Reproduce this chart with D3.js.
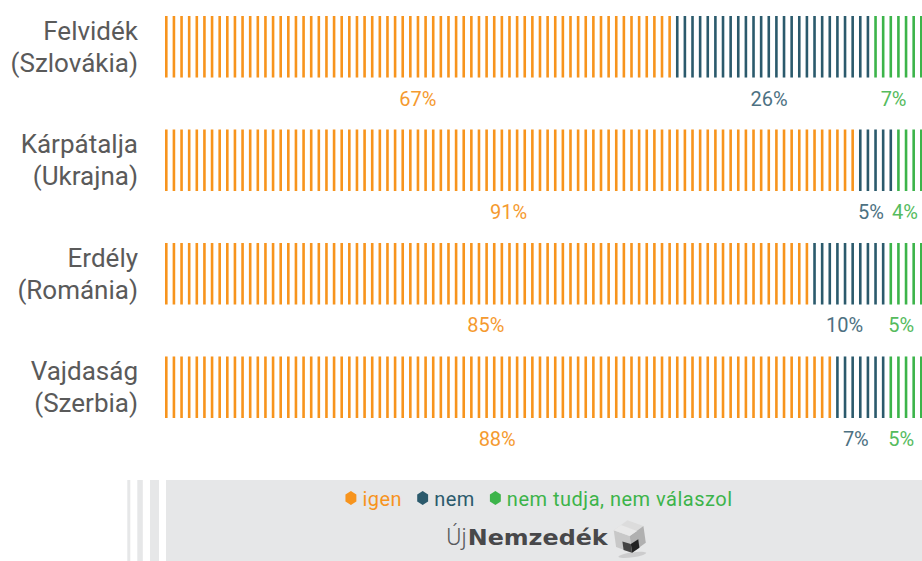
<!DOCTYPE html>
<html>
<head>
<meta charset="utf-8">
<script src="https://cdn.jsdelivr.net/npm/d3@7"></script>
<style>
  body { margin: 0; background: #fff; }
  svg { display: block; font-family: Roboto, "Open Sans", sans-serif; }
</style>
</head>
<body>
<svg width="922" height="561"></svg>
<script>
// chart data
const regions = ["Felvidék", "Kárpátalja", "Erdély", "Vajdaság"];
const countries = ["(Szlovákia)", "(Ukrajna)", "(Románia)", "(Szerbia)"];
const igen = [67, 91, 85, 88];
const nem = [26, 5, 10, 7];
const nemTudja = [7, 4, 5, 5];
const seriesNames = ["igen", "nem", "nem tudja, nem válaszol"];
const seriesColors = ["#f7941d", "#2b5a6c", "#3cb44a"];
const labelColors = ["#f59a2f", "#4d7182", "#55bb5d"];

const svg = d3.select("svg");
const width = +svg.attr("width");
const height = +svg.attr("height");

// rows
const y = d3.scaleBand()
    .domain(regions)
    .range([16, 418])
    .paddingInner(0.458);

// one stripe per percent
const xStripe = d3.scaleLinear().domain([0, 99]).range([165, 920]);
// percent labels sit at the middle of each segment
const xLabel = d3.scaleLinear().domain([0, 100]).range([165, 920]);

const rows = regions.map((r, i) => {
    const vals = [igen[i], nem[i], nemTudja[i]];
    let acc = 0;
    const segs = vals.map((v, j) => {
        const s = { key: j, start: acc, end: acc + v, value: v };
        acc += v;
        return s;
    });
    return { region: r, country: countries[i], segs: segs };
});

const row = svg.selectAll("g.row")
    .data(rows)
    .enter().append("g")
    .attr("class", "row")
    .attr("transform", d => `translate(0,${y(d.region)})`);

// category labels
row.append("text")
    .attr("x", 138)
    .attr("y", y.bandwidth() / 2 - 7)
    .attr("text-anchor", "end")
    .attr("font-size", 26)
    .attr("fill", "#5a5a5a")
    .text(d => d.region);

row.append("text")
    .attr("x", 138)
    .attr("y", y.bandwidth() / 2 + 25)
    .attr("text-anchor", "end")
    .attr("font-size", 26)
    .attr("fill", "#5a5a5a")
    .text(d => d.country);

// striped bars
row.each(function(d) {
    const g = d3.select(this);
    const stripes = d3.range(100).map(k => {
        const seg = d.segs.find(s => k >= s.start && k < s.end) || d.segs[d.segs.length - 1];
        return { k: k, key: seg.key };
    });
    g.selectAll("rect.stripe")
        .data(stripes)
        .enter().append("rect")
        .attr("class", "stripe")
        .attr("x", s => xStripe(s.k))
        .attr("y", 0)
        .attr("width", 2.6)
        .attr("height", y.bandwidth())
        .attr("fill", s => seriesColors[s.key]);

    g.selectAll("text.pct")
        .data(d.segs)
        .enter().append("text")
        .attr("class", "pct")
        .attr("x", s => xLabel((s.start + s.end) / 2))
        .attr("y", y.bandwidth() + 28)
        .attr("text-anchor", "middle")
        .attr("font-size", 20)
        .attr("fill", s => labelColors[s.key])
        .text(s => s.value + "%");
});

// footer
const footer = svg.append("g").attr("class", "footer");
footer.append("rect")
    .attr("x", 166).attr("y", 480)
    .attr("width", width - 166).attr("height", height - 480)
    .attr("fill", "#e6e7e8");
[[127.3, 3], [137.3, 5.5], [150, 9]].forEach(([x, w]) => {
    footer.append("rect")
        .attr("x", x).attr("y", 480)
        .attr("width", w).attr("height", height - 480)
        .attr("fill", "#e6e7e8");
});

// legend
const hexPath = (cx, r) => d3.range(6).map(i => {
    const a = Math.PI / 3 * i - Math.PI / 2;
    return (cx + r * 0.9 * Math.cos(a)) + "," + (r * Math.sin(a));
}).join(" ");
const legend = footer.append("g");
let lx = 0;
seriesNames.forEach((name, i) => {
    const item = legend.append("g").attr("transform", `translate(${lx},0)`);
    item.append("polygon")
        .attr("points", hexPath(5.5, 7))
        .attr("fill", seriesColors[i]);
    const t = item.append("text")
        .attr("x", 17)
        .attr("y", 7.5)
        .attr("font-size", 20)
        .attr("letter-spacing", 0.5)
        .attr("fill", seriesColors[i])
        .text(name);
    lx += 17 + t.node().getComputedTextLength() + 15;
});
lx -= 15;
legend.attr("transform", `translate(${(166 + width) / 2 - lx / 2 - 5},498)`);

// logo
const logo = footer.append("g");
const uj = logo.append("text")
    .attr("x", 0).attr("y", 0)
    .attr("font-size", 23)
    .attr("font-weight", 300)
    .attr("fill", "#58595b")
    .text("Új");
const ujW = uj.node().getComputedTextLength();
const nz = logo.append("text")
    .attr("x", ujW + 1).attr("y", 0)
    .attr("font-family", "'DejaVu Sans', sans-serif")
    .attr("font-size", 22)
    .attr("font-weight", 700)
    .attr("fill", "#48484a")
    .attr("textLength", 140)
    .attr("lengthAdjust", "spacingAndGlyphs")
    .text("Nemzedék");
const cx = ujW + 1 + 140 + 22;
const cube = logo.append("g").attr("transform", `translate(${cx},-9) rotate(-8)`);
cube.append("ellipse").attr("cx", 0).attr("cy", 19).attr("rx", 14).attr("ry", 2.5)
    .attr("fill", "#bbb").attr("opacity", 0.6);
cube.append("polygon").attr("points", "0,-16 15,-8 0,0 -15,-8").attr("fill", "#dcdcdc");
cube.append("polygon").attr("points", "-15,-8 0,0 0,17 -15,9").attr("fill", "#c8c8c8");
cube.append("polygon").attr("points", "15,-8 0,0 0,17 15,9").attr("fill", "#b0b0b0");
cube.append("polygon").attr("points", "-7,-12 8,-4 0,0 -15,-8").attr("fill", "#e8e8e8");
cube.append("polygon").attr("points", "0,8 8,4.5 8,13 0,17").attr("fill", "#222");
cube.append("polygon").attr("points", "-8,4.5 0,8 0,17 -8,13").attr("fill", "#444");
const logoW = cx + 16;
logo.attr("transform", `translate(${(166 + width) / 2 - logoW / 2 + 2},545)`);
</script>
</body>
</html>
